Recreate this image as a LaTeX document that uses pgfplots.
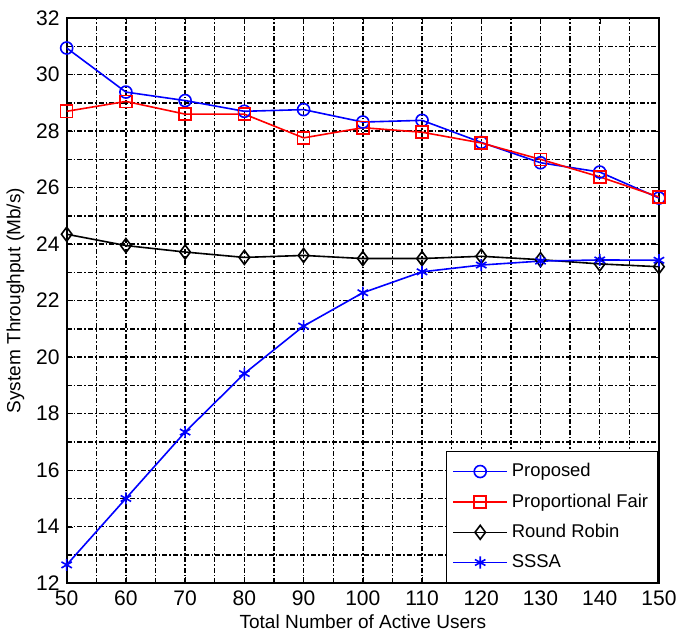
\documentclass[border=0pt]{standalone}
\usepackage{fontspec}
\setmainfont{Liberation Sans}
\usepackage{pgfplots}
\pgfplotsset{compat=1.18}

\begin{document}
\begin{tikzpicture}
\begin{axis}[
    scale only axis,
    width=295.5pt, height=282pt,
    xmin=50, xmax=150, ymin=12, ymax=32,
    xtick={50,60,...,150}, ytick={12,14,...,32},
    minor x tick num=1, minor y tick num=1,
    grid=both,
    major grid style={black, line width=0.7pt, dash pattern=on 2.5pt off 1pt on 0.8pt off 1pt},
    minor grid style={black, line width=0.7pt, dash pattern=on 2.5pt off 1pt on 0.8pt off 1pt},
    axis line style={black, line width=0.9pt},
    tick align=inside,
    major tick length=3pt, minor tick length=0pt,
    tick style={black},
    /pgf/number format/assume math mode=true,
    ticklabel style={font=\fontsize{10.5}{12}\selectfont},
    label style={font=\fontsize{9.5}{11}\selectfont},
    xlabel={Total Number of Active Users},
    ylabel={System Throughput (Mb/s)},
    xlabel style={yshift=2pt},
    ylabel style={yshift=-1pt},
    legend style={at={(1,0)}, anchor=south east, draw=black, line width=0.8pt,
                  font=\fontsize{9.2}{11}\selectfont, row sep=3pt,
                  inner xsep=3pt, inner ysep=4pt},
    legend cell align=left,
    legend image code/.code={\draw[mark repeat=2,mark phase=2,#1]
        plot coordinates {(0cm,0cm) (0.47cm,0cm) (0.94cm,0cm)};},
    every axis plot/.append style={line width=0.8pt},
    after end axis/.code={\path (rel axis cs:1,1) ++(14pt,9pt);},
]
\addplot[color=blue, mark=o, mark size=3pt, mark options={solid}] coordinates {
    (50,30.94) (60,29.38) (70,29.08) (80,28.7) (90,28.76) (100,28.32)
    (110,28.38) (120,27.6) (130,26.88) (140,26.55) (150,25.63)
};
\addplot[color=red, mark=square, mark size=3pt, mark options={solid}] coordinates {
    (50,28.7) (60,29.05) (70,28.6) (80,28.6) (90,27.76) (100,28.12)
    (110,27.96) (120,27.58) (130,27.0) (140,26.38) (150,25.67)
};
\addplot[color=black, mark=diamond, mark size=3.5pt, mark options={solid}] coordinates {
    (50,24.35) (60,23.95) (70,23.72) (80,23.53) (90,23.6) (100,23.49)
    (110,23.49) (120,23.57) (130,23.45) (140,23.3) (150,23.2)
};
\addplot[color=blue, mark=asterisk, mark size=3pt, mark options={solid}] coordinates {
    (50,12.65) (60,15.0) (70,17.35) (80,19.42) (90,21.1) (100,22.28)
    (110,23.02) (120,23.26) (130,23.4) (140,23.44) (150,23.43)
};
\legend{Proposed, Proportional Fair, Round Robin, SSSA}
\end{axis}
\end{tikzpicture}
\end{document}
